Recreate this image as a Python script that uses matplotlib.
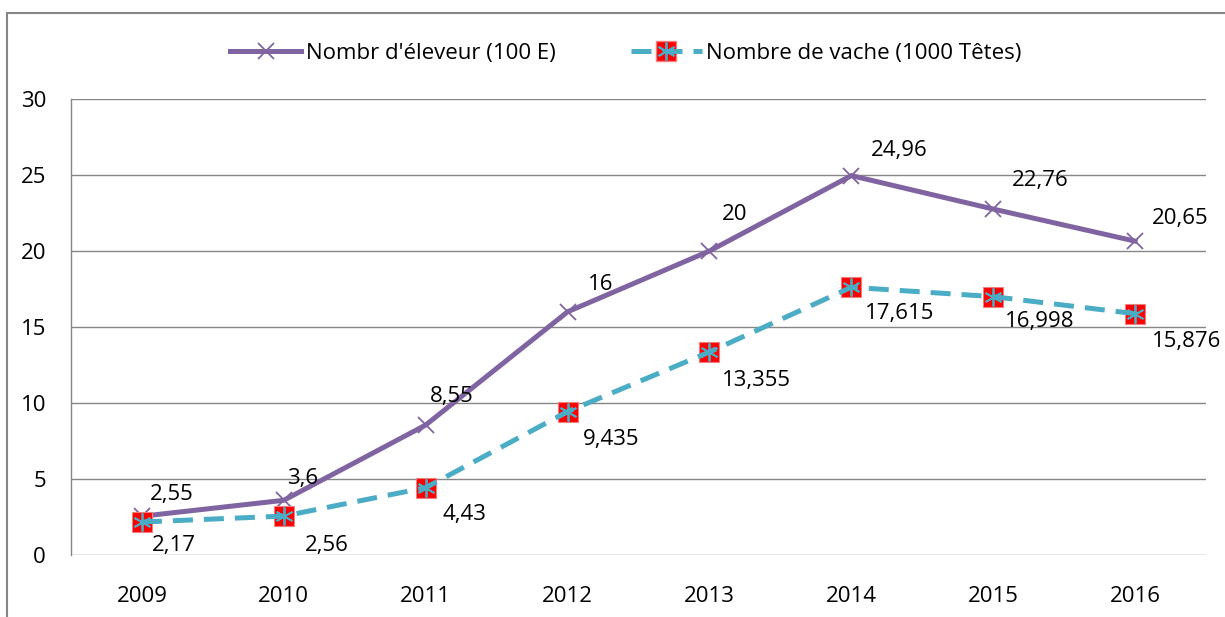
import matplotlib.pyplot as plt
from matplotlib.patches import Rectangle

# ==== DATOS ====
annees = ['2009', '2010', '2011', '2012', '2013', '2014', '2015', '2016']
eleveurs = [2.55, 3.6, 8.55, 16, 20, 24.96, 22.76, 20.65]
vaches = [2.17, 2.56, 4.43, 9.435, 13.355, 17.615, 16.998, 15.876]
labels_eleveurs = ['2,55', '3,6', '8,55', '16', '20', '24,96', '22,76', '20,65']
labels_vaches = ['2,17', '2,56', '4,43', '9,435', '13,355', '17,615', '16,998', '15,876']

# décalages des étiquettes (pixels)
OFF_E = [(8, 22), (3, 22), (4, 29), (20, 27), (12, 36), (20, 25), (19, 29), (17, 23)]
OFF_V = [(10, -23), (21, -29), (17, -27), (15, -28), (12, -28), (14, -26), (12, -25), (17, -28)]

VIOLET = '#8064A2'
CYAN = '#4BACC6'
GRIS = '#868686'
FS = 16

plt.rcParams['font.family'] = ['Open Sans', 'DejaVu Sans']

fig = plt.figure(figsize=(12.25, 6.17), dpi=100)
ax = fig.add_axes([71 / 1225, 62 / 617, 1135 / 1225, 456 / 617])

x = list(range(len(annees)))

l1, = ax.plot(x, eleveurs, '-', color=VIOLET, lw=3.6, marker='x', ms=12,
              mew=1.3, mec=VIOLET, label="Nombr d'éleveur (100 E)", zorder=3)
ax.plot(x, vaches, ls='none', marker='s', ms=15, mfc='red', mec='#F08080',
        mew=0.8, zorder=4)
l2, = ax.plot(x, vaches, '--', color=CYAN, lw=3.6, dashes=(4, 2.2), marker=(6, 2, 0),
              ms=13, mew=1.3, mec=CYAN, label='Nombre de vache (1000 Têtes)', zorder=5)

for i in x:
    ax.annotate(labels_eleveurs[i], (i, eleveurs[i]), xytext=OFF_E[i],
                textcoords='offset pixels', ha='left', va='center', fontsize=FS)
    ax.annotate(labels_vaches[i], (i, vaches[i]), xytext=OFF_V[i],
                textcoords='offset pixels', ha='left', va='center', fontsize=FS)

ax.set_xlim(-0.5, len(annees) - 0.5)
ax.set_ylim(0, 30)
ax.set_yticks([0, 5, 10, 15, 20, 25, 30])
ax.set_xticks(x)
ax.set_xticklabels(annees)
ax.tick_params(axis='both', length=0, labelsize=FS)
ax.tick_params(axis='x', pad=22)
ax.tick_params(axis='y', pad=18)
ax.grid(axis='y', color=GRIS, lw=1)
ax.set_axisbelow(True)
for s in ['top', 'right', 'bottom']:
    ax.spines[s].set_visible(False)
ax.spines['left'].set_color(GRIS)
ax.spines['left'].set_linewidth(1)

# légende
sq = plt.Line2D([], [], ls='none', marker='s', ms=15, mfc='red', mec='#F08080')
fig.legend([l1, (sq, l2)], [l1.get_label(), l2.get_label()], loc='center',
           bbox_to_anchor=(0.511, 1 - 53 / 617), ncol=2, frameon=False,
           fontsize=FS, handlelength=3.2, handletextpad=0.2, columnspacing=3.4)

# cadre extérieur
fig.patches.append(Rectangle((7 / 1225, -0.1), 1.2, (617 - 13) / 617 + 0.1,
                             transform=fig.transFigure, fill=False,
                             edgecolor=GRIS, lw=1.5))

fig.savefig('out.png', dpi=100)
